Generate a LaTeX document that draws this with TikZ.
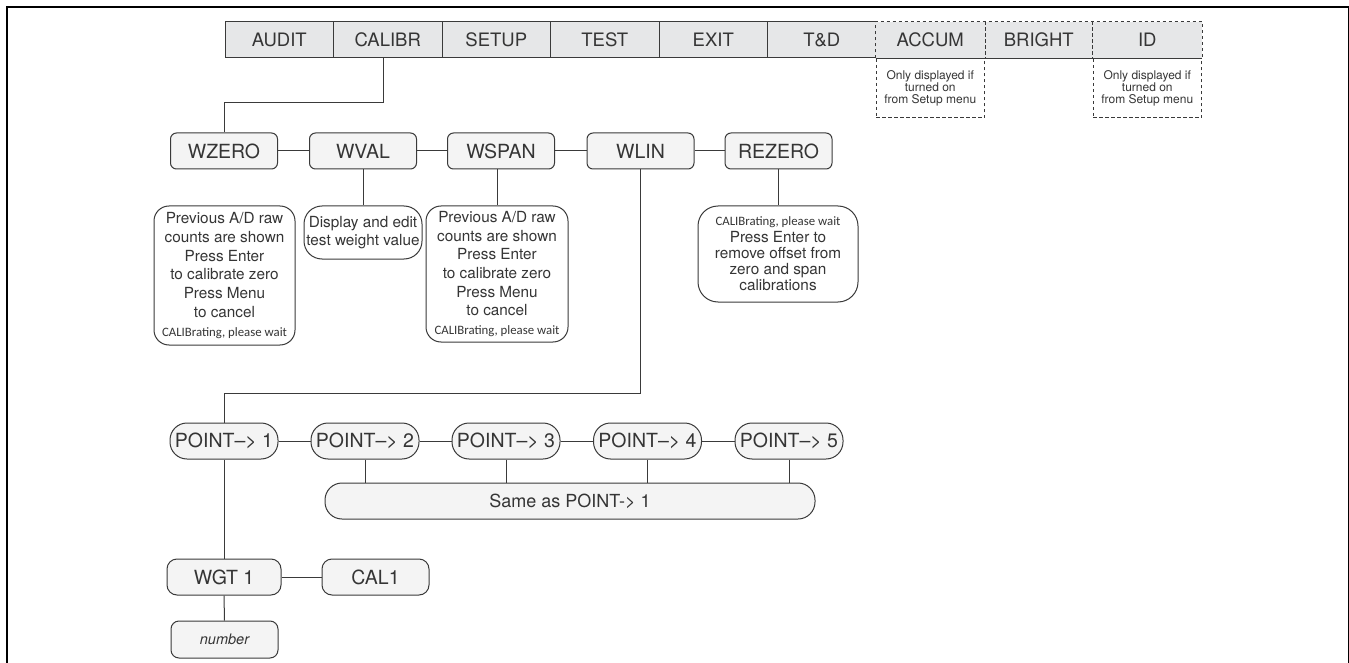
\documentclass[tikz,border=0pt]{standalone}
\usepackage{fontspec}
\setmainfont{TeX Gyre Heros}
\newfontfamily\calfont{Carlito}
\definecolor{barfill}{HTML}{E6E7E8}
\definecolor{boxfill}{HTML}{F4F4F4}
\definecolor{ink}{HTML}{3A3A3A}
\definecolor{txt}{HTML}{353535}
\tikzset{
  menucell/.style={draw=ink, fill=barfill, line width=1pt, minimum width=108.5pt, minimum height=36pt, inner sep=0pt, text=txt, font=\fontsize{18.5}{20}\selectfont},
  menufill/.style={menucell, draw=none},
  notebox/.style={draw=ink, line width=1pt, dash pattern=on 3.5pt off 2.5pt, minimum width=108.5pt, minimum height=59pt, inner sep=0pt, align=center, text=txt, font=\fontsize{12}{11.8}\selectfont},
  itembox/.style={draw=ink, fill=boxfill, line width=1pt, rounded corners=6pt, minimum width=107pt, minimum height=36pt, inner sep=0pt, text=txt, font=\fontsize{19.5}{21}\selectfont},
  pointbox/.style={itembox, rounded corners=17pt, minimum width=108pt},
  descbox/.style={draw=ink, fill=white, line width=1pt, rounded corners=15pt, inner sep=0pt, align=center, text=txt, font=\fontsize{15.3}{18.7}\selectfont},
  link/.style={draw=ink, line width=1pt}
}
\newcommand{\calib}{{\calfont\fontsize{12.8}{14}\selectfont CALIBrating, please wait}}
\begin{document}
\begin{tikzpicture}[x=1pt,y=-1pt]
\useasboundingbox (0,0) rectangle (1349,663);
% frame
\draw[line width=2pt] (7,663) -- (7,7) -- (1349,7);
\draw[line width=1pt] (1348.3,7) -- (1348.3,663);
% menu bar
\node[menucell] (audit)  at (279.25,40) {AUDIT};
\node[menucell] (calibr) at (387.75,40) {CALIBR};
\node[menucell] (setup)  at (496.25,40) {SETUP};
\node[menucell] (test)   at (604.75,40) {TEST};
\node[menucell] (exit)   at (713.25,40) {EXIT};
\node[menucell] (td)     at (821.75,40) {T\&D};
\node[menufill] (accum)  at (930.25,40) {ACCUM};
\node[menufill] (bright) at (1038.75,40) {BRIGHT};
\node[menufill] (id)     at (1147.25,40) {ID};
\node[notebox, anchor=north] (accnote) at (accum.south) {Only displayed if\\turned on\\from Setup menu};
\node[notebox, anchor=north] (idnote) at (id.south) {Only displayed if\\turned on\\from Setup menu};
\draw[link, dash pattern=on 3.5pt off 2.5pt] (accum.south west) -- (accum.north west) -- (id.north east) -- (id.south east);
\draw[link, dash pattern=on 3.5pt off 2.5pt] (accum.north east) -- (accum.south east);
\draw[link, dash pattern=on 3.5pt off 2.5pt] (id.north west) -- (id.south west);
\draw[link] (accum.south west) -- (id.south east);
% second row
\node[itembox] (wzero)  at (224,151) {WZERO};
\node[itembox] (wval)   at (363,151) {WVAL};
\node[itembox] (wspan)  at (501,151) {WSPAN};
\node[itembox] (wlin)   at (640.5,151) {WLIN};
\node[itembox] (rezero) at (778.5,151) {REZERO};
\coordinate (k1) at (224,103);
\draw[link] ([xshift=-4.75pt]calibr.south) |- (k1) -- (wzero.north);
\draw[link] (wzero) -- (wval) -- (wspan) -- (wlin) -- (rezero);
% descriptions
\node[descbox, minimum width=141pt, minimum height=139pt] (wzerod) at (224.5,275.5)
  {Previous A/D raw\\counts are shown\\Press Enter\\to calibrate zero\\Press Menu\\to cancel\\\calib};
\node[descbox, rounded corners=18pt, minimum width=118pt, minimum height=53pt] (wvald) at (363,232.5)
  {Display and edit\\test weight value};
\node[descbox, minimum width=142pt, minimum height=136pt] (wspand) at (497,274)
  {Previous A/D raw\\counts are shown\\Press Enter\\to calibrate zero\\Press Menu\\to cancel\\\calib};
\node[descbox, rounded corners=20pt, minimum width=160pt, minimum height=96pt, font=\fontsize{15.3}{16.2}\selectfont] (rezerod) at (778,254)
  {\calib\\Press Enter to\\remove offset from\\zero and span\\calibrations};
\draw[link] (wval.south) -- (wvald.north);
\draw[link] (wspand.north |- wspan.south) -- (wspand.north);
\draw[link] (rezerod.north |- rezero.south) -- (rezerod.north);
% linearisation points
\node[pointbox] (p1) at (224,441) {POINT–> 1};
\node[pointbox] (p2) at (365,441) {POINT–> 2};
\node[pointbox] (p3) at (506,441) {POINT–> 3};
\node[pointbox] (p4) at (647.5,441) {POINT–> 4};
\node[pointbox] (p5) at (789,441) {POINT–> 5};
\coordinate (k2) at (224,393);
\draw[link] ([xshift=-0.5pt]wlin.south) |- (k2) -- (p1.north);
\draw[link] (p1) -- (p2) -- (p3) -- (p4) -- (p5);
\node[pointbox, minimum width=490pt, font=\fontsize{18}{20}\selectfont] (same) at (570,501) {Same as POINT-> 1};
\draw[link] (p2.south) -- (p2.south |- same.north);
\draw[link] (p3.south) -- (p3.south |- same.north);
\draw[link] (p4.south) -- (p4.south |- same.north);
\draw[link] (p5.south) -- (p5.south |- same.north);
% weights
\node[itembox, rounded corners=10pt, minimum width=114pt] (wgt) at (224,577) {WGT 1};
\node[itembox, rounded corners=10pt] (cal) at (375.5,577) {CAL1};
\node[itembox, rounded corners=8pt, minimum height=37pt, font=\fontsize{14.5}{16}\selectfont\itshape] (num) at (224.5,639.5) {number};
\draw[link] (p1) -- (wgt);
\draw[link] (wgt) -- (cal);
\draw[link] (wgt) -- (num);
\end{tikzpicture}
\end{document}
